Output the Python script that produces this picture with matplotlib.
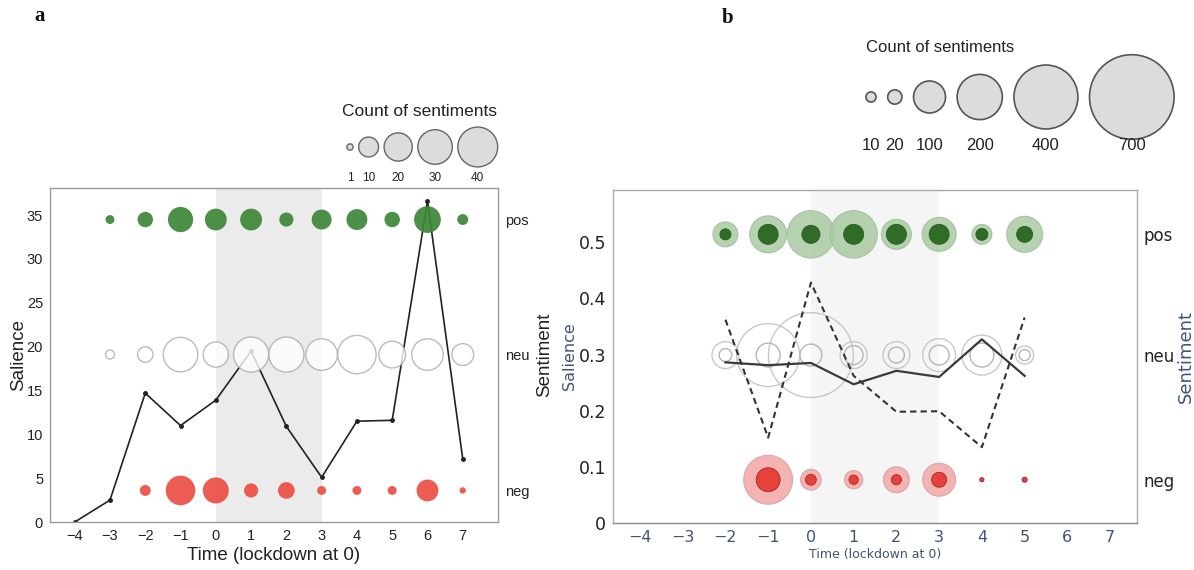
import matplotlib
matplotlib.use("Agg")
import matplotlib.pyplot as plt
import numpy as np

# ---------------- data: panel a ----------------
time_a = [-4, -3, -2, -1, 0, 1, 2, 3, 4, 5, 6, 7]
salience_a = [0, 2.5, 14.7, 11.0, 13.9, 19.5, 10.9, 5.1, 11.5, 11.6, 36.6, 7.2]
pos_count_a = [0, 2, 6, 16, 12, 12, 5, 10, 11, 6, 18, 3]
neu_count_a = [0, 2, 6, 30, 16, 31, 31, 25, 37, 18, 25, 12]
neg_count_a = [0, 0, 3, 22, 17, 5, 7, 2, 2, 2, 12, 1]
sent_levels_a = [34.5, 19.1, 3.6]
sent_labels = ["pos", "neu", "neg"]
legend_counts_a = [1, 10, 20, 30, 40]
xticks_a = list(range(-4, 8))
yticks_a = [0, 5, 10, 15, 20, 25, 30, 35]

# ---------------- data: panel b ----------------
time_b = [-2, -1, 0, 1, 2, 3, 4, 5]
salience_b_solid = [0.286, 0.281, 0.285, 0.247, 0.271, 0.260, 0.327, 0.262]
salience_b_dashed = [0.362, 0.152, 0.428, 0.262, 0.198, 0.199, 0.135, 0.366]
pos_outer_b = [61, 134, 220, 220, 88, 113, 39, 127]
pos_inner_b = [12, 39, 32, 39, 39, 39, 14, 25]
neu_outer_b = [71, 388, 705, 71, 71, 106, 156, 32]
neu_inner_b = [16, 56, 47, 35, 25, 39, 56, 12]
neg_outer_b = [0, 234, 42, 33, 66, 106, 1.6, 2.4]
neg_inner_b = [0, 56, 11.5, 8.5, 10, 22, 1.6, 2.4]
sent_levels_b = [0.514, 0.299, 0.077]
legend_counts_b = [10, 20, 100, 200, 400, 700]
xticks_b = list(range(-4, 8))
yticks_b = [0, 0.1, 0.2, 0.3, 0.4, 0.5]
ytick_labels_b = ["0", "0.1", "0.2", "0.3", "0.4", "0.5"]

SCALE_A = 20.6   # pt^2 per count
SCALE_B = 5.3

DPI = 100
fig = plt.figure(figsize=(11.94, 5.70), dpi=DPI)

def minus(v):
    return str(v).replace("-", "\u2212")

def nz(xs, cs):
    x = [a for a, c in zip(xs, cs) if c > 0]
    c = [c for c in cs if c > 0]
    return x, c

# ================= Panel a =================
fa = "Liberation Sans"
axa = fig.add_axes([0.0419, 0.0842, 0.3752, 0.586])
axa.axvspan(0, 3, color="#ebebeb", zorder=0, lw=0)
axa.plot(time_a, salience_a, color="#222222", lw=1.2, marker="o", ms=2.5, zorder=2)

colors_a = ["#3d8637", "white", "#ec4e44"]
edges_a = ["none", "#aaaaaa", "none"]
alphas_a = [0.92, 0.8, 0.92]
for lvl, cnt, col, ec, al in zip(sent_levels_a, [pos_count_a, neu_count_a, neg_count_a],
                                 colors_a, edges_a, alphas_a):
    x, c = nz(time_a, cnt)
    axa.scatter(x, [lvl] * len(x), s=np.array(c) * SCALE_A, color=col,
                edgecolors=ec, linewidths=1.0, alpha=al, zorder=3)

axa.set_xlim(-4.7, 8.0)
axa.set_ylim(0, 38.1)
axa.set_xticks(xticks_a)
axa.set_xticklabels([minus(v) for v in xticks_a], fontsize=10.5, family=fa, color="#222")
axa.set_yticks(yticks_a)
axa.set_yticklabels([str(v) for v in yticks_a], fontsize=10.5, family=fa, color="#222")
axa.tick_params(length=0, pad=5)
for sp in axa.spines.values():
    sp.set_color("#9a9a9a")
    sp.set_linewidth(1.0)
axa.set_xlabel("Time (lockdown at 0)", fontsize=13.5, family=fa, color="#222", labelpad=3)
axa.set_ylabel("Salience", fontsize=13.5, family=fa, color="#222", labelpad=0)

axa2 = axa.twinx()
axa2.set_ylim(axa.get_ylim())
axa2.set_yticks(sent_levels_a)
axa2.set_yticklabels(sent_labels, fontsize=10.5, family=fa, color="#222")
axa2.tick_params(length=0, pad=5)
for sp in axa2.spines.values():
    sp.set_visible(False)
axa2.set_ylabel("Sentiment", fontsize=13.5, family=fa, color="#222", labelpad=5)

# ================= Panel b =================
fb = "DejaVu Sans"
blue = "#3f5578"
axb = fig.add_axes([0.5134, 0.0825, 0.4389, 0.5842])
axb.axvspan(0, 3, color="#f5f5f5", zorder=0, lw=0)

# outer circles
x, c = nz(time_b, pos_outer_b)
axb.scatter(x, [sent_levels_b[0]] * len(x), s=np.array(c) * SCALE_B, color="#a9caa3",
            edgecolors="#9fbf99", linewidths=0.8, alpha=0.85, zorder=2)
x, c = nz(time_b, neu_outer_b)
axb.scatter(x, [sent_levels_b[1]] * len(x), s=np.array(c) * SCALE_B, facecolors="none",
            edgecolors="#c8c8c8", linewidths=1.0, zorder=2)
x, c = nz(time_b, neg_outer_b)
axb.scatter(x, [sent_levels_b[2]] * len(x), s=np.array(c) * SCALE_B, color="#f4b3b3",
            edgecolors="#d8a8a8", linewidths=0.8, zorder=2)
# inner circles
x, c = nz(time_b, pos_inner_b)
axb.scatter(x, [sent_levels_b[0]] * len(x), s=np.array(c) * SCALE_B, color="#2f6d27",
            edgecolors="#2a5a23", linewidths=0.6, zorder=3)
x, c = nz(time_b, neu_inner_b)
axb.scatter(x, [sent_levels_b[1]] * len(x), s=np.array(c) * SCALE_B, facecolors="none",
            edgecolors="#b5b5b5", linewidths=1.0, zorder=3)
x, c = nz(time_b, neg_inner_b)
axb.scatter(x, [sent_levels_b[2]] * len(x), s=np.array(c) * SCALE_B, color="#e8403a",
            edgecolors="#9c2a26", linewidths=0.6, zorder=3)

axb.plot(time_b, salience_b_solid, color="#3a3a3a", lw=1.6, zorder=4)
axb.plot(time_b, salience_b_dashed, color="#333333", lw=1.5, ls=(0, (3, 2)), zorder=4)

axb.set_xlim(-4.63, 7.63)
axb.set_ylim(0, 0.593)
axb.set_xticks(xticks_b)
axb.set_xticklabels([minus(v) for v in xticks_b], fontsize=11.5, family=fb, color=blue)
axb.set_yticks(yticks_b)
axb.set_yticklabels(ytick_labels_b, fontsize=12.5, family=fb, color="#222")
axb.tick_params(length=0, pad=5)
for sp in axb.spines.values():
    sp.set_color("#aaaaaa")
    sp.set_linewidth(1.0)
axb.spines["bottom"].set_color("#888888")
axb.set_xlabel("Time (lockdown at 0)", fontsize=9, family=fb, color=blue, labelpad=2)
axb.set_ylabel("Salience", fontsize=11.5, family=fb, color=blue, labelpad=1)

axb2 = axb.twinx()
axb2.set_ylim(axb.get_ylim())
axb2.set_yticks(sent_levels_b)
axb2.set_yticklabels(sent_labels, fontsize=12, family=fb, color="#222")
axb2.tick_params(length=0, pad=5)
for sp in axb2.spines.values():
    sp.set_visible(False)
axb2.set_ylabel("Sentiment", fontsize=13, family=fb, color=blue, labelpad=1)

# ================= overlay (legends, panel letters) =================
ov = fig.add_axes([0, 0, 1, 1], zorder=10)
ov.set_xlim(0, 1194)
ov.set_ylim(570, 0)
ov.set_axis_off()

def legend_positions(counts, scale, x0, gap):
    d = np.sqrt(np.array(counts, dtype=float) * scale) * DPI / 72.0
    xs = [x0]
    for i in range(1, len(d)):
        xs.append(xs[-1] + d[i - 1] / 2 + gap + d[i] / 2)
    return xs

xs_a = legend_positions(legend_counts_a, SCALE_A, 350, 5.5)
ov.scatter(xs_a, [147] * len(xs_a), s=np.array(legend_counts_a) * SCALE_A,
           color="#dcdcdc", edgecolors="#666666", linewidths=1.0)
for xv, cv in zip(xs_a, legend_counts_a):
    ov.text(xv, 178, str(cv), ha="center", va="center", fontsize=8.5, family=fa, color="#222")
ov.text(420, 112, "Count of sentiments", ha="center", va="center", fontsize=12.5,
        family=fa, color="#222")

xs_b = legend_positions(legend_counts_b, SCALE_B, 871, 11.6)
ov.scatter(xs_b, [97] * len(xs_b), s=np.array(legend_counts_b) * SCALE_B,
           color="#dcdcdc", edgecolors="#555555", linewidths=1.2)
for xv, cv in zip(xs_b, legend_counts_b):
    ov.text(xv, 146, str(cv), ha="center", va="center", fontsize=12, family=fa, color="#222")
ov.text(940, 47, "Count of sentiments", ha="center", va="center", fontsize=12,
        family=fa, color="#222")

ov.text(40, 16, "a", ha="center", va="center", fontsize=15, family="Liberation Serif",
        weight="bold", color="#111")
ov.text(728, 18, "b", ha="center", va="center", fontsize=15, family="Liberation Serif",
        weight="bold", color="#111")

fig.savefig("out.png", dpi=DPI)
